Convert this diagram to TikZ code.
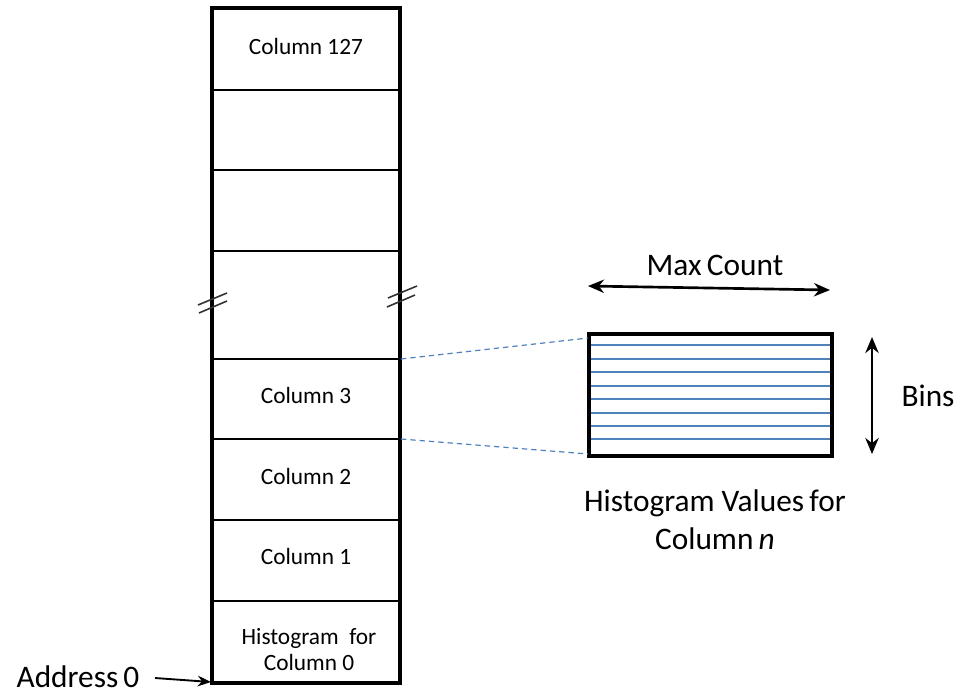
\documentclass[tikz,border=0pt]{standalone}
\usepackage{fontspec}
\setmainfont{Carlito}
\usetikzlibrary{arrows.meta}
\definecolor{binblue}{RGB}{79,129,189}
\tikzset{
  outer/.style={line width=3pt,line join=miter},
  divider/.style={line width=1.4pt},
  lbl/.style={inner sep=0pt,font=\fontsize{17.5}{21}\selectfont},
  biglbl/.style={inner sep=0pt,font=\fontsize{23.5}{28.5}\selectfont,align=center},
  brk/.style={line width=1.2pt,draw=black!80},
  binline/.style={draw=binblue,line width=0.9pt},
  link/.style={draw=binblue,line width=0.9pt,dash pattern=on 4pt off 3pt},
  dimarrow/.style={line width=2pt,{Stealth[length=12pt,width=10pt]}-{Stealth[length=12pt,width=10pt]}},
  ptrarrow/.style={line width=1.4pt,-{Stealth[length=10pt,width=8pt]}}
}
\begin{document}
\begin{tikzpicture}[x=0.75pt,y=-0.75pt]
\useasboundingbox (0,0) rectangle (961,694);
% memory column
\foreach \yy in {90,170,251,359,439,520,601}{\draw[divider] (212,\yy) -- (400,\yy);}
\draw[outer] (212,8) rectangle (400,683);
\coordinate (c3tr) at (401,359);
\coordinate (c3br) at (401,439);
\coordinate (c0bl) at (211,682);
% labels
\node[lbl] (c127) at (306,46) {Column 127};
\node[lbl] (c3) at (306,395) {Column 3};
\node[lbl] (c2) at (306,476) {Column 2};
\node[lbl] (c1) at (306,556) {Column 1};
\node[lbl,align=center,font=\fontsize{17.5}{19.5}\selectfont] (c0) at (309,650) {Histogram\ \ for\\Column 0};
% break marks
\draw[brk] (198,305) -- (227,293);
\draw[brk] (199,313) -- (227,301);
\draw[brk] (388,298) -- (417,286);
\draw[brk] (387,307) -- (415,295);
% histogram box
\foreach \yy in {345,359,372,386,399,413,426,439}{\draw[binline] (589,\yy) -- (832,\yy);}
\draw[line width=2.4pt] (589,334) rectangle (832,456);
\coordinate (htl) at (588,338);
\coordinate (hbl) at (588,454);
\draw[link] (c3tr) -- (htl);
\draw[link] (c3br) -- (hbl);
% Max count
\coordinate (mcl) at (588,286);
\coordinate (mcr) at (830,290);
\draw[dimarrow] (mcl) -- (mcr);
\node[biglbl] (mc) at (715,265) {Max\,Count};
% Bins
\coordinate (bt) at (872,337);
\coordinate (bb) at (872,454);
\draw[dimarrow] (bt) -- (bb);
\node[biglbl] (bins) at (928,396) {Bins};
% caption
\node[biglbl] (cap) at (715,520) {Histogram Values\,for\\Column\,\textit{n}};
% address
\node[biglbl] (addr) at (78,677) {Address\,0};
\coordinate (as) at (155,678);
\draw[ptrarrow] (as) -- (c0bl);
\end{tikzpicture}
\end{document}
